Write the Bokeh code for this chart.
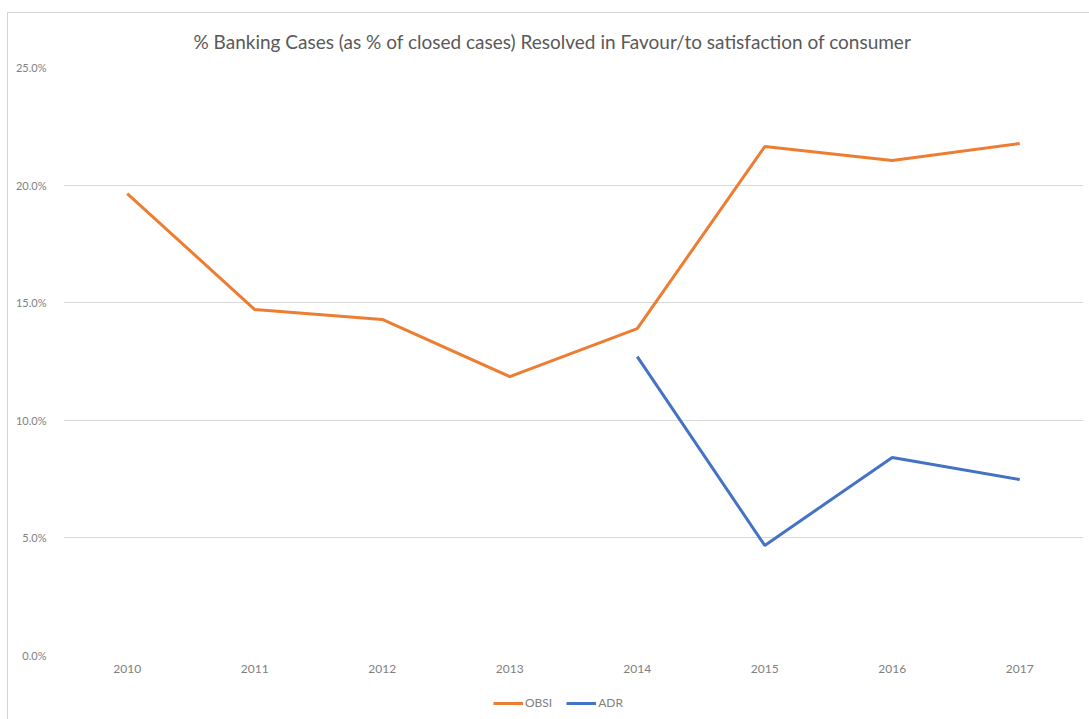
from bokeh.plotting import figure
from bokeh.layouts import column
from bokeh.models import (ColumnDataSource, Legend, LegendItem, FixedTicker,
                          CustomJSTickFormatter, Title, InlineStyleSheet)
from bokeh.embed import file_html
from bokeh.resources import INLINE

years = ["2010", "2011", "2012", "2013", "2014", "2015", "2016", "2017"]
obsi = [19.64, 14.71, 14.29, 11.86, 13.90, 21.64, 21.05, 21.77]
adr_years = ["2014", "2015", "2016", "2017"]
adr = [12.71, 4.68, 8.42, 7.48]
y_ticks = [0, 5, 10, 15, 20, 25]
series_names = ["OBSI", "ADR"]
series_colors = ["#ED7D31", "#4472C4"]
title_text = "% Banking Cases (as % of closed cases) Resolved in Favour/to satisfaction of consumer"

FONT = "Lato"
GRAY = "#808080"

p = figure(width=1089, height=690, x_range=years, y_range=(0, 25),
           output_backend="svg", toolbar_location=None,
           min_border_left=63, min_border_right=6, min_border_top=67, min_border_bottom=35)
p.outline_line_color = None
p.background_fill_color = None
p.border_fill_color = None

src_o = ColumnDataSource(dict(x=years, y=obsi))
src_a = ColumnDataSource(dict(x=adr_years, y=adr))
sources = [src_o, src_a]
for src, col in zip(sources, series_colors):
    p.line("x", "y", source=src, line_color=col, line_width=3)

p.yaxis.ticker = FixedTicker(ticks=y_ticks)
p.yaxis.formatter = CustomJSTickFormatter(code="return tick.toFixed(1) + '%';")
for ax in (p.xaxis, p.yaxis):
    ax.axis_line_color = None
    ax.major_tick_line_color = None
    ax.minor_tick_line_color = None
    ax.major_label_text_color = GRAY
    ax.major_label_text_font = FONT
p.yaxis.major_label_text_font_size = "11px"
p.xaxis.major_label_text_font_size = "12px"
p.yaxis.major_label_standoff = 11
p.xaxis.major_label_standoff = 3

p.xgrid.grid_line_color = None
p.ygrid.grid_line_color = "#d9d9d9"
p.ygrid.grid_line_width = 1

t = Title(text=title_text, align="left", offset=130, text_font=FONT, text_font_size="19px",
          text_color="#595959", text_font_style="normal", standoff=29)
p.add_layout(t, "above")

# legend strip below the chart (its lines lie outside its visible y range)
lf = figure(width=1089, height=29, output_backend="svg", toolbar_location=None,
            x_range=years, y_range=(-20, -19), x_axis_location=None, y_axis_location=None,
            min_border=0, outline_line_color=None)
lf.background_fill_color = None
lf.border_fill_color = None
lf.grid.grid_line_color = None
items = []
for name, src, col in zip(series_names, sources, series_colors):
    r = lf.line("x", "y", source=src, line_color=col, line_width=3)
    items.append(LegendItem(label=name, renderers=[r]))
legend = Legend(items=items, orientation="horizontal", location=(430, 9),
                label_text_font=FONT, label_text_font_size="12px",
                label_text_color=GRAY, glyph_width=30, glyph_height=12,
                label_standoff=2, spacing=14, padding=0, margin=0,
                border_line_color=None, background_fill_alpha=0)
lf.add_layout(legend, "center")

layout = column(p, lf, spacing=0)
layout.stylesheets = [InlineStyleSheet(css=(
    ":host{position:relative;background:white;}"
    ":host::after{content:'';position:absolute;left:7px;top:12px;right:-10px;bottom:-10px;"
    "border:1.5px solid #d4d4d4;pointer-events:none;}"))]

open("out.html", "w").write(file_html(layout, INLINE))
